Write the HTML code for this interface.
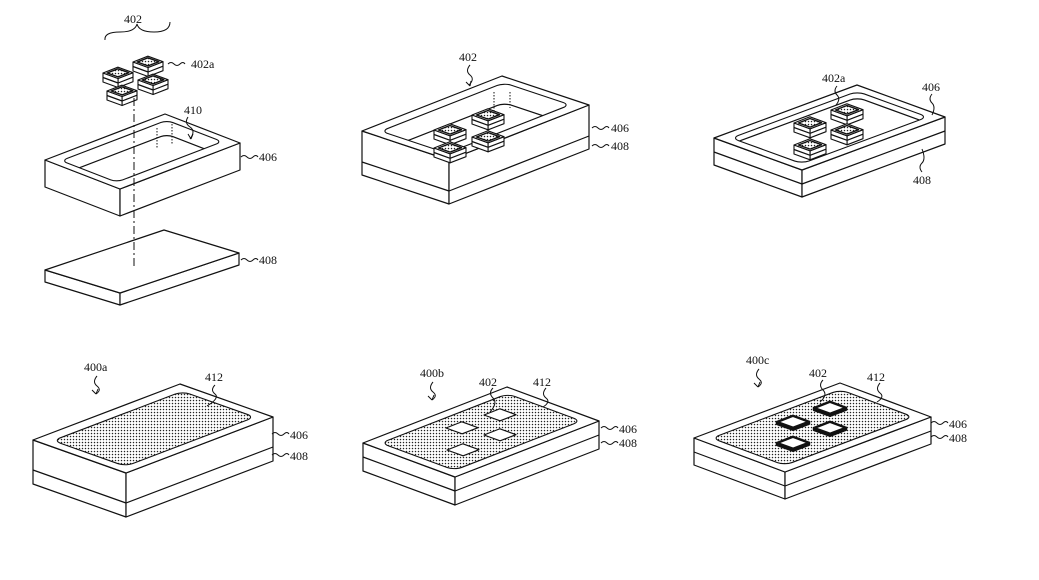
<!DOCTYPE html>
<html><head><meta charset="utf-8"><style>
html,body{margin:0;padding:0;background:#fff}
svg{display:block}
text{font-family:"Liberation Serif",serif;font-size:12px;fill:#111}
</style></head><body>
<svg id="s" width="1039" height="580" viewBox="0 0 1039 580" xmlns="http://www.w3.org/2000/svg">
<defs>
<pattern id="dots" width="3" height="3" patternUnits="userSpaceOnUse"><rect width="3" height="3" fill="#fff"/><circle cx="1.5" cy="1.5" r="0.75" fill="#222"/></pattern>
</defs>
<rect width="1039" height="580" fill="#fff"/>
<g id="shapes" fill="#fff" stroke="#111" stroke-width="1.2" stroke-linejoin="round"></g>
<g fill="none" stroke="#111" stroke-width="1">
<path d="M105 40 Q104 32 120 32 Q135 32 137 24 Q139 32 154 32 Q170 32 170 22"/>
<path d="M168 64 q3 -3 6 0 t6 0 t5 0"/>
<path d="M188 117 q-4 6 2 10 t0 12"/>
<path d="M191 139 l-3 -5 M191 139 l2 -5"/>
<path d="M241 157 q3 -3 6 0 t6 0 t5 0"/>
<path d="M241 260 q3 -3 6 0 t6 0 t5 0"/>
<line x1="134" y1="98" x2="134" y2="268" stroke-dasharray="8 3 2 3"/>
<line x1="157" y1="128" x2="157" y2="148" stroke-dasharray="1.5 1.5"/>
<line x1="172" y1="124" x2="172" y2="145" stroke-dasharray="1.5 1.5"/>
<path d="M470 65 q-5 6 0 10 t-1 10"/><path d="M470 86 l-4 -4 M470 86 l1 -5"/>
<line x1="494" y1="92" x2="494" y2="112" stroke-dasharray="1.5 1.5"/>
<line x1="510" y1="92" x2="510" y2="108" stroke-dasharray="1.5 1.5"/>
<path d="M592 128 q3 -3 6 0 t6 0 t5 0"/>
<path d="M592 146 q3 -3 6 0 t6 0 t5 0"/>
<path d="M837 86 q-4 5 0 9 t-1 10"/>
<path d="M932 94 q-4 5 0 9 t0 12"/>
<path d="M922 172 q-4 -5 0 -9 t0 -14"/>
<path d="M97 376 q-5 6 0 10 t-1 8"/><path d="M96 394 l-4 -4 M96 394 l2 -5"/>
<path d="M215 385 q-5 5 0 9 t-8 12"/>
<path d="M272 434 q3 -3 6 0 t6 0 t5 0"/>
<path d="M272 455 q3 -3 6 0 t6 0 t5 0"/>
<path d="M433 382 q-5 6 0 10 t-1 8"/><path d="M432 400 l-4 -4 M432 400 l2 -5"/>
<path d="M493 388 q-5 5 0 10 t-3 14"/>
<path d="M546 388 q-5 6 0 10 t-3 9"/>
<path d="M601 428 q3 -3 6 0 t6 0 t5 0"/>
<path d="M601 443 q3 -3 6 0 t6 0 t5 0"/>
<path d="M759 369 q-5 6 0 10 t-1 8"/><path d="M758 387 l-4 -4 M758 387 l2 -5"/>
<path d="M823 380 q-5 5 0 10 t-3 12"/>
<path d="M880 383 q-5 6 0 10 t-3 9"/>
<path d="M931 423 q3 -3 6 0 t6 0 t5 0"/>
<path d="M931 437 q3 -3 6 0 t6 0 t5 0"/>
</g>
<text x="124" y="23">402</text>
<text x="191" y="68">402a</text>
<text x="184" y="114">410</text>
<text x="259" y="161">406</text>
<text x="259" y="264">408</text>
<text x="459" y="61">402</text>
<text x="611" y="132">406</text>
<text x="611" y="150">408</text>
<text x="822" y="82">402a</text>
<text x="922" y="91">406</text>
<text x="913" y="184">408</text>
<text x="84" y="371">400a</text>
<text x="205" y="381">412</text>
<text x="290" y="439">406</text>
<text x="290" y="460">408</text>
<text x="420" y="377">400b</text>
<text x="479" y="386">402</text>
<text x="533" y="386">412</text>
<text x="619" y="433">406</text>
<text x="619" y="447">408</text>
<text x="746" y="364">400c</text>
<text x="809" y="377">402</text>
<text x="867" y="381">412</text>
<text x="949" y="428">406</text>
<text x="949" y="442">408</text>
</svg>
<script>
const NS="http://www.w3.org/2000/svg";
const root=document.getElementById('shapes');
const svg=document.getElementById('s');
function el(t,a,p){const e=document.createElementNS(NS,t);for(const k in a)e.setAttribute(k,a[k]);(p||root).appendChild(e);return e;}
const add=(a,b)=>[a[0]+b[0],a[1]+b[1]];
const dn=(a,h)=>[a[0],a[1]+h];
const pts=a=>a.map(p=>p[0].toFixed(1)+','+p[1].toFixed(1)).join(' ');
function mat(o){return `matrix(${(o.F[0]-o.L[0])/100},${(o.F[1]-o.L[1])/100},${(o.B[0]-o.L[0])/100},${(o.B[1]-o.L[1])/100},${o.L[0]},${o.L[1]})`;}
function box(o,hs){const L=o.L,F=o.F,B=o.B,R=[F[0]+B[0]-L[0],F[1]+B[1]-L[1]];const H=hs[hs.length-1];
el('polygon',{points:pts([L,F,dn(F,H),dn(L,H)])});
el('polygon',{points:pts([F,R,dn(R,H),dn(F,H)])});
el('polygon',{points:pts([L,F,R,B])});
hs.slice(0,-1).forEach(h=>el('polyline',{points:pts([dn(L,h),dn(F,h),dn(R,h)]),fill:'none'}));}
let cid=0;
function rr(o,u1,u2,v1,v2,opt){opt=opt||{};const id='c'+(cid++);const cp=el('clipPath',{id},svg);
const ra={x:u1,y:v1,width:u2-u1,height:v2-v1,rx:8,ry:5};
el('rect',Object.assign({},ra,{transform:mat(o)}),cp);
if(opt.dots)el('rect',{x:0,y:0,width:1039,height:580,fill:'url(#dots)',stroke:'none','clip-path':`url(#${id})`});
if(opt.depth){const g=el('g',{'clip-path':`url(#${id})`});el('rect',Object.assign({},ra,{transform:`translate(0,${opt.depth}) ${mat(o)}`,fill:'none','vector-effect':'non-scaling-stroke'}),g);}
el('rect',Object.assign({},ra,{transform:mat(o),fill:'none','vector-effect':'non-scaling-stroke','stroke-width':opt.sw||1.1}));}
function chip(cx,cy,s,h,opt){opt=opt||{};const e=1.07*s;const L=[cx-s,cy];const du=[0.94*e,0.34*e],dv=[0.93*e,-0.36*e];
const F=add(L,du),B=add(L,dv),R=add(F,dv);const c=[(L[0]+R[0])/2,(L[1]+R[1])/2];
const sw=opt.sw||1.1;
if(h>0){el('polygon',{points:pts([L,F,dn(F,h),dn(L,h)]),'stroke-width':sw});el('polygon',{points:pts([F,R,dn(R,h),dn(F,h)]),'stroke-width':sw});
if(opt.mid)el('polyline',{points:pts([dn(L,h*0.5),dn(F,h*0.5),dn(R,h*0.5)]),fill:'none'});}
el('polygon',{points:pts([L,F,R,B]),'stroke-width':sw});
if(opt.dots){const k=0.72;const q=[L,F,R,B].map(p=>[c[0]+k*(p[0]-c[0]),c[1]+k*(p[1]-c[1])]);el('polygon',{points:pts(q),fill:'url(#dots)','stroke-width':1.4});}}
[[148,62],[118,73],[153,80],[122,91]].forEach(p=>chip(p[0],p[1],15,9,{dots:1,mid:1}));
const o1={L:[45,160],F:[120,189],B:[165,114]};box(o1,[27]);rr(o1,12,86,6,94,{depth:14});
const o1b={L:[45,270],F:[120,293],B:[164,230]};box(o1b,[12]);
const o2={L:[362,131],F:[449,160],B:[502,76]};box(o2,[31,44]);rr(o2,12,88,6,94,{depth:20});
[[488,115],[450,130],[488,137],[450,148]].forEach(p=>chip(p[0],p[1],16,9,{dots:1,mid:1}));
const o3={L:[714,138],F:[802,170],B:[857,85]};box(o3,[14,27]);rr(o3,10,90,6,94,{depth:6});
[[847,110],[810,123],[847,130],[810,145]].forEach(p=>chip(p[0],p[1],16,9,{dots:1,mid:1}));
const o4={L:[33,440],F:[126,473],B:[180,384]};box(o4,[30,44]);rr(o4,12,90,6,94,{dots:1});
const o5={L:[363,443],F:[455,477],B:[507,387]};box(o5,[14,28]);rr(o5,10,90,6,94,{dots:1});
[[500,415],[462,428],[500,435],[463,450]].forEach(p=>chip(p[0],p[1],16,0,{}));
const o6={L:[694,438],F:[785,472],B:[840,383]};box(o6,[14,27]);rr(o6,10,90,6,94,{dots:1});
[[830,408],[793,422],[830,428],[793,443]].forEach(p=>chip(p[0],p[1],16,2,{sw:2.4}));
</script>
</body></html>
